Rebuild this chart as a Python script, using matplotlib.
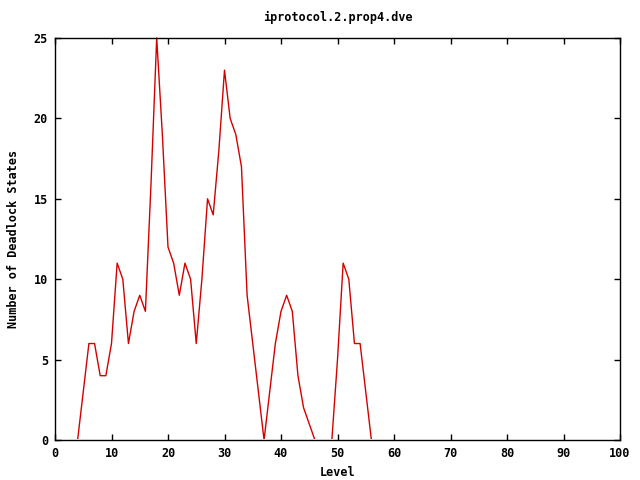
import matplotlib
matplotlib.use("Agg")
import matplotlib.pyplot as plt
from matplotlib.ticker import MultipleLocator
from matplotlib.patches import Rectangle

levels = list(range(0, 57))
deadlock_states = [0, 0, 0, 0, 0, 3, 6, 6, 4, 4,
                   6, 11, 10, 6, 8, 9, 8, 16, 25, 19,
                   12, 11, 9, 11, 10, 6, 10, 15, 14, 18,
                   23, 20, 19, 17, 9, 6, 3, 0, 3, 6,
                   8, 9, 8, 4, 2, 1, 0, 0, 0, 0,
                   5, 11, 10, 6, 6, 3, 0]

title = "iprotocol.2.prop4.dve"
xlabel = "Level"
ylabel = "Number of Deadlock States"

plt.rcParams['font.family'] = ['DejaVu Sans Mono', 'DejaVu Sans']
plt.rcParams['font.weight'] = 'bold'

fig = plt.figure(figsize=(6.4, 4.8), dpi=100)
ax = fig.add_axes([55/640, 1-440/480, 565/640, 402/480])
line, = ax.plot(levels, deadlock_states, color='#d40000', linewidth=1.0, zorder=2)
# hide the part of the line lying on the bottom border (as the border covers it)
clip = Rectangle((0, 0.0018), 1, 1.0, transform=ax.transAxes, visible=False)
ax.add_patch(clip)
line.set_clip_path(clip)
ax.set_xlim(0, 100)
ax.set_ylim(0, 25)
ax.xaxis.set_major_locator(MultipleLocator(10))
ax.yaxis.set_major_locator(MultipleLocator(5))
ax.tick_params(direction='in', length=4, width=1, top=True, right=True,
               labelsize=8.5, pad=5)
for lab in ax.get_xticklabels() + ax.get_yticklabels():
    lab.set_fontweight('bold')
for s in ax.spines.values():
    s.set_linewidth(1)
    s.set_zorder(3)
ax.set_title(title, fontsize=8.5, fontweight='bold', pad=12)
ax.set_xlabel(xlabel, fontsize=8.5, fontweight='bold', labelpad=4)
ax.set_ylabel(ylabel, fontsize=8.5, fontweight='bold', labelpad=10)
fig.savefig("out.png", dpi=100)
